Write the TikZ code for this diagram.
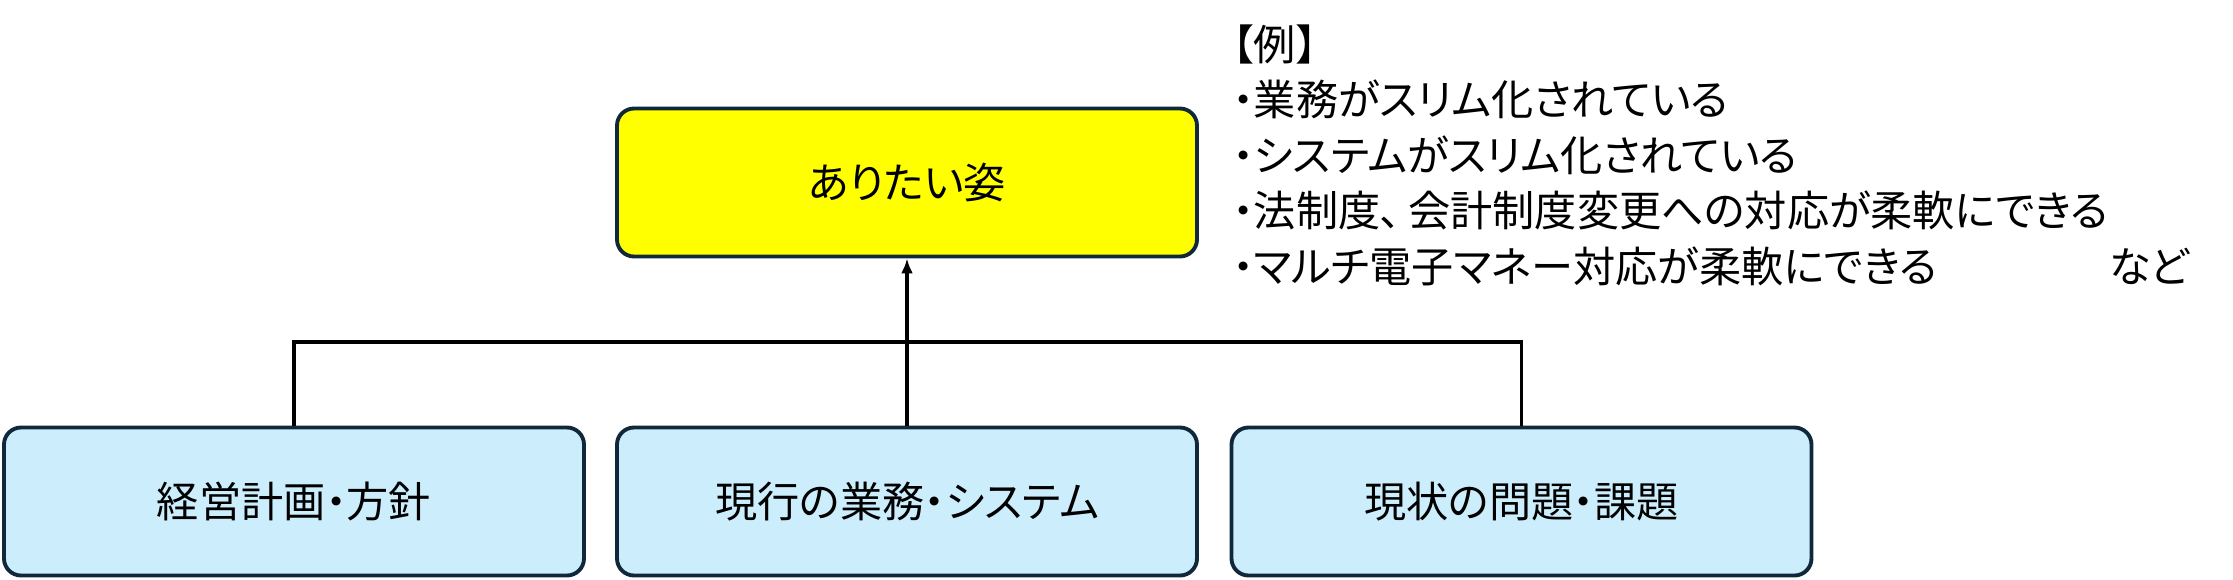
\documentclass[tikz,border=0pt]{standalone}
\usepackage{fontspec}
\setmainfont[RawFeature=+palt]{Noto Sans CJK JP}
\usetikzlibrary{arrows.meta}

\definecolor{boxline}{RGB}{16,40,58}
\definecolor{goalfill}{RGB}{255,255,0}
\definecolor{asisfill}{RGB}{204,238,252}

\tikzset{
  goalbox/.style={draw=boxline, line width=1.1pt, rounded corners=0.17cm, fill=goalfill,
    minimum width=5.8cm, minimum height=1.48cm, font=\fontsize{12}{14}\selectfont},
  asisbox/.style={goalbox, fill=asisfill},
  link/.style={line width=0.9pt, black},
}

\begin{document}
\begin{tikzpicture}
  \useasboundingbox (0,0) rectangle (22.33,5.79);

  % goal
  \node [goalbox, name=goal] at (9.07,3.965) {ありたい姿};

  % current state
  \node [asisbox, name=plan] at (2.94,0.775) {経営計画・方針};
  \node [asisbox, name=work] at (9.07,0.775) {現行の業務・システム};
  \node [asisbox, name=issue] at (15.215,0.775) {現状の問題・課題};

  % connectors
  \coordinate (jn) at (9.07,2.37);
  \draw [link] (plan.north) |- (jn) -| (issue.north);
  \draw [link, -{Latex[length=1.5mm, width=1.2mm]}] (work.north) -- (goal.south);

  % examples
  \node [draw=none, align=left, anchor=north west, inner sep=0pt,
    font=\fontsize{12}{15.8}\selectfont, name=ex] at (12.32,5.55)
    {【例】\\
     ・業務がスリム化されている\\
     ・システムがスリム化されている\\
     ・法制度、\,会計制度変更への対応が柔軟にできる\\
     ・マルチ電子マネー対応が柔軟にできる\hspace*{1.72cm}など};
\end{tikzpicture}
\end{document}
